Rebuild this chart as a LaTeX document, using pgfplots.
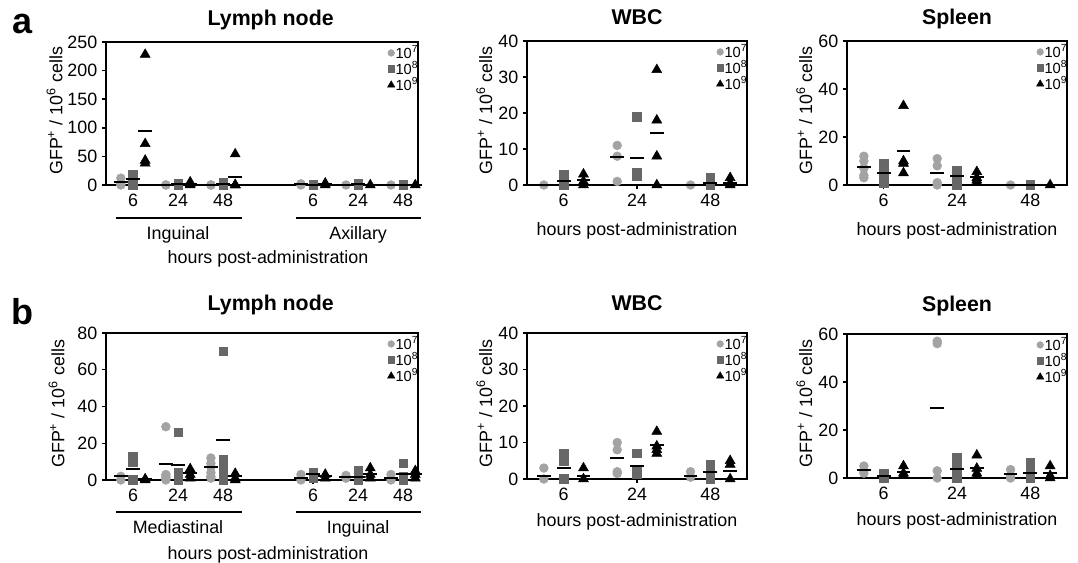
\documentclass[border=0pt]{standalone}
\usepackage{fontspec}
\setmainfont{Liberation Sans}
\usepackage{pgfplots}
\pgfplotsset{compat=1.18}

\definecolor{c7}{HTML}{A3A3A3}
\definecolor{c8}{HTML}{676767}

\newcommand{\tfont}{\fontsize{16}{16}\selectfont\bfseries}
\newcommand{\lfont}{\fontsize{13.4}{13.4}\selectfont}
\newcommand{\gfont}{\fontsize{11}{11}\selectfont}
\tikzset{lab/.style={font=\lfont, anchor=base}}

\pgfplotsset{
  panel/.style={
    scale only axis, clip=false, ymin=0,
    axis line style={line width=1.4pt},
    every tick/.style={black, line width=1.1pt},
    major tick length=3pt,
    tick align=outside, xtick pos=bottom, ytick pos=left,
    tick label style={font=\lfont},
    /pgf/number format/assume math mode=true,
    legend style={at={(1,1)}, anchor=north east, xshift=1pt, yshift=-2pt,
      draw=none, fill=none, font=\gfont,
      row sep=0pt, inner sep=0pt, nodes={inner sep=0.6pt},
      /tikz/every even column/.append style={column sep=1.5pt}},
    legend cell align=left,
    legend image code/.code={\draw[##1] plot coordinates {(0pt,0pt)};},
  },
  ln/.style={panel, width=234pt, xmin=0.4, xmax=7.33,
    xtick={1,2,3,5,6,7}, xticklabels={6,24,48,6,24,48}},
  sm/.style={panel, width=165pt, xmin=0.5, xmax=3.5,
    xtick={1,2,3}, xticklabels={6,24,48}},
  d7/.style={only marks, mark=*, mark size=3.3pt, draw=c7, fill=c7, forget plot},
  d8/.style={only marks, mark=square*, mark size=3.2pt, draw=c8, fill=c8, forget plot},
  d9/.style={only marks, mark=triangle*, mark size=4.3pt, draw=black, fill=black, forget plot},
  mean/.style={only marks, mark=-, mark size=5.2pt, black, mark options={line width=1.5pt}, forget plot},
}

\newcommand{\doselegend}{%
  \addlegendimage{only marks, mark=*, mark size=2.5pt, draw=c7, fill=c7}
  \addlegendentry{\gfont 10\textsuperscript{7}}
  \addlegendimage{only marks, mark=square*, mark size=2.4pt, draw=c8, fill=c8}
  \addlegendentry{\gfont 10\textsuperscript{8}}
  \addlegendimage{only marks, mark=triangle*, mark size=3.1pt, draw=black, fill=black}
  \addlegendentry{\gfont 10\textsuperscript{9}}}

\begin{document}
\begin{tikzpicture}
\useasboundingbox (0,0) rectangle (808.5pt,421.5pt);

\node[font=\fontsize{27}{27}\selectfont\bfseries] at (17pt,403.5pt) {a};
\node[font=\fontsize{27}{27}\selectfont\bfseries] at (17pt,187.5pt) {b};

% ---------- a: Lymph node ----------
\begin{axis}[ln, at={(79.5pt,282.75pt)}, anchor=south west, height=107.25pt,
  ymax=250, ytick={0,50,100,150,200,250}]
\addplot[d7] coordinates {(0.73,0)(0.73,3)(0.73,12)(1.73,0)(1.73,0)(2.73,0)(2.73,0)
  (4.73,0)(4.73,2)(5.73,0)(6.73,0)};
\addplot[d8] coordinates {(1,0)(1,6)(1,12)(1,19)(2,0)(2,1)(2,3)(3,0)(3,2)(3,5)
  (5,0)(5,1)(6,0)(6,2)(7,0)(7,1)};
\addplot[d9] coordinates {(1.27,228)(1.27,72)(1.27,43)(1.27,38)(2.27,0)(2.27,2)(2.27,5)
  (3.27,54)(3.27,0)(3.27,0)(3.27,0)(5.27,0)(5.27,3)(6.27,0)(7.27,0)};
\addplot[mean] coordinates {(0.73,5)(1,10)(1.27,95)(1.73,0)(2,1)(2.27,2)(2.73,0)(3,2)(3.27,13.5)
  (4.73,1)(5,0.5)(5.27,1.5)(5.73,0)(6,1)(6.27,0)(6.73,0)(7,0.5)(7.27,0)};
\doselegend
\node[font=\tfont, anchor=base] at ([xshift=6.5pt,yshift=12.3pt]rel axis cs:0.5,1) {Lymph node};
\node[rotate=90, font=\lfont] at ([xshift=-38.5pt,yshift=2pt]rel axis cs:0,0.5) {GFP\textsuperscript{+} / 10\textsuperscript{6} cells};
\draw[line width=1.1pt] ([yshift=-24.75pt]axis cs:0.62,0) -- ([yshift=-24.75pt]axis cs:3.42,0);
\draw[line width=1.1pt] ([yshift=-24.75pt]axis cs:4.62,0) -- ([yshift=-24.75pt]axis cs:7.4,0);
\node[lab] at ([yshift=-40.8pt]axis cs:2,0) {Inguinal};
\node[lab] at ([yshift=-40.8pt]axis cs:6,0) {Axillary};
\node[lab] at ([xshift=4.5pt,yshift=-58.8pt]rel axis cs:0.5,0) {hours post-administration};
\end{axis}

% ---------- a: WBC ----------
\begin{axis}[sm, at={(395.25pt,282.75pt)}, anchor=south west, height=108pt,
  ymax=40, ytick={0,10,20,30,40}]
\addplot[d7] coordinates {(0.73,0)(1.73,11)(1.73,8)(1.73,1)(2.73,0)};
\addplot[d8] coordinates {(1,3)(1,1)(1,0)(2,19)(2,3.5)(2,2.5)(3,2)(3,0)};
\addplot[d9] coordinates {(1.27,3)(1.27,1)(1.27,0)(2.27,32)(2.27,18)(2.27,8)(2.27,0)
  (3.27,2)(3.27,0.5)(3.27,0)};
\addplot[mean] coordinates {(0.73,0)(1,1.2)(1.27,1.4)(1.73,7.8)(2,7.6)(2.27,14.4)(2.73,0)(3,0.5)(3.27,0.6)};
\doselegend
\node[font=\tfont, anchor=base] at ([yshift=12.3pt]rel axis cs:0.5,1) {WBC};
\node[rotate=90, font=\lfont] at ([xshift=-32pt,yshift=2pt]rel axis cs:0,0.5) {GFP\textsuperscript{+} / 10\textsuperscript{6} cells};
\node[lab] at ([yshift=-37.8pt]rel axis cs:0.5,0) {hours post-administration};
\end{axis}

% ---------- a: Spleen ----------
\begin{axis}[sm, at={(635.25pt,282.75pt)}, anchor=south west, height=108pt,
  ymax=60, ytick={0,20,40,60}]
\addplot[d7] coordinates {(0.73,12)(0.73,10)(0.73,7)(0.73,4)(0.73,3)(1.73,11)(1.73,8)(1.73,1)(1.73,0)(2.73,0)};
\addplot[d8] coordinates {(1,9)(1,5)(1,3)(1,1)(2,6)(2,3)(2,1)(2,0)(3,0)};
\addplot[d9] coordinates {(1.27,33)(1.27,10)(1.27,9)(1.27,5)(2.27,5.5)(2.27,3)(2.27,2)(2.27,1)(3.27,0)};
\addplot[mean] coordinates {(0.73,7.6)(1,4.9)(1.27,14.3)(1.73,5.1)(2,3.6)(2.27,3.3)(2.73,0)(3,0)(3.27,0)};
\doselegend
\node[font=\tfont, anchor=base] at ([yshift=12.3pt]rel axis cs:0.5,1) {Spleen};
\node[rotate=90, font=\lfont] at ([xshift=-32pt,yshift=2pt]rel axis cs:0,0.5) {GFP\textsuperscript{+} / 10\textsuperscript{6} cells};
\node[lab] at ([yshift=-37.8pt]rel axis cs:0.5,0) {hours post-administration};
\end{axis}

% ---------- b: Lymph node ----------
\begin{axis}[ln, at={(79.5pt,61.5pt)}, anchor=south west, height=110.25pt,
  ymax=80, ytick={0,20,40,60,80}]
\addplot[d7] coordinates {(0.73,2)(0.73,0)(1.73,29)(1.73,3)(1.73,2)(1.73,1)(1.73,0)
  (2.73,12)(2.73,9)(2.73,7)(2.73,4)(2.73,2)(2.73,1)(4.73,3)(4.73,0)(5.73,2.5)(5.73,1)(6.73,3)(6.73,0)};
\addplot[d8] coordinates {(1,13)(1,10)(1,0)(2,26)(2,4)(2,1)(2,0)(3,70)(3,11)(3,6)(3,2)(3,0)
  (5,4)(5,1)(6,5)(6,2)(6,0)(7,9)(7,2)(7,0)};
\addplot[d9] coordinates {(1.27,0.5)(1.27,0)(2.27,6)(2.27,3)(2.27,1)(3.27,3.5)(3.27,1)(3.27,0)
  (5.27,3)(5.27,1)(6.27,6.5)(6.27,3)(6.27,1)(7.27,5)(7.27,3)(7.27,1)};
\addplot[mean] coordinates {(0.73,2)(1,6.2)(1.27,0.3)(1.73,8.7)(2,8.2)(2.27,4)(2.73,6.9)(3,21.8)(3.27,2)
  (4.73,1)(5,3)(5.27,2)(5.73,1.8)(6,1.5)(6.27,3)(6.73,1)(7,3)(7.27,3)};
\doselegend
\node[font=\tfont, anchor=base] at ([xshift=6.5pt,yshift=16.8pt]rel axis cs:0.5,1) {Lymph node};
\node[rotate=90, font=\lfont] at ([xshift=-37pt,yshift=2pt]rel axis cs:0,0.5) {GFP\textsuperscript{+} / 10\textsuperscript{6} cells};
\draw[line width=1.1pt] ([yshift=-24pt]axis cs:0.62,0) -- ([yshift=-24pt]axis cs:3.42,0);
\draw[line width=1.1pt] ([yshift=-24pt]axis cs:4.62,0) -- ([yshift=-24pt]axis cs:7.4,0);
\node[lab] at ([yshift=-40pt]axis cs:2,0) {Mediastinal};
\node[lab] at ([yshift=-40pt]axis cs:6,0) {Inguinal};
\node[lab] at ([xshift=4.5pt,yshift=-59.5pt]rel axis cs:0.5,0) {hours post-administration};
\end{axis}

% ---------- b: WBC ----------
\begin{axis}[sm, at={(395.25pt,62.25pt)}, anchor=south west, height=109.5pt,
  ymax=40, ytick={0,10,20,30,40}]
\addplot[d7] coordinates {(0.73,3)(0.73,0)(1.73,10)(1.73,8)(1.73,2)(1.73,1.5)(2.73,2)(2.73,0.5)};
\addplot[d8] coordinates {(1,7)(1,5)(1,0)(2,7)(2,2)(2,1.5)(3,4)(3,2)(3,0)};
\addplot[d9] coordinates {(1.27,3)(1.27,0)(2.27,13)(2.27,9)(2.27,8)(2.27,7)(3.27,5)(3.27,4)(3.27,0)};
\addplot[mean] coordinates {(0.73,0.8)(1,3)(1.27,0.8)(1.73,5.7)(2,3.6)(2.27,9.2)(2.73,0.8)(3,2)(3.27,2.3)};
\doselegend
\node[font=\tfont, anchor=base] at ([yshift=16.8pt]rel axis cs:0.5,1) {WBC};
\node[rotate=90, font=\lfont] at ([xshift=-32pt,yshift=2pt]rel axis cs:0,0.5) {GFP\textsuperscript{+} / 10\textsuperscript{6} cells};
\node[lab] at ([yshift=-35.5pt]rel axis cs:0.5,0) {hours post-administration};
\end{axis}

% ---------- b: Spleen ----------
\begin{axis}[sm, at={(635.25pt,63pt)}, anchor=south west, height=108pt,
  ymax=60, ytick={0,20,40,60}]
\addplot[d7] coordinates {(0.73,5)(0.73,3)(0.73,2)(1.73,57)(1.73,56)(1.73,3)(1.73,0)(2.73,3.5)(2.73,1)(2.73,0)};
\addplot[d8] coordinates {(1,2)(1,0.5)(1,0)(2,8.5)(2,6)(2,3)(2,0)(3,6.5)(3,3)(3,0)};
\addplot[d9] coordinates {(1.27,5)(1.27,2)(1.27,1)(2.27,9.5)(2.27,4)(2.27,2)(2.27,1)(3.27,5)(3.27,1)(3.27,0)};
\addplot[mean] coordinates {(0.73,3.3)(1,1)(1.27,2.5)(1.73,29.2)(2,3.75)(2.27,4)(2.73,1.5)(3,2)(3.27,2)};
\doselegend
\node[font=\tfont, anchor=base] at ([yshift=16.8pt]rel axis cs:0.5,1) {Spleen};
\node[rotate=90, font=\lfont] at ([xshift=-32pt,yshift=2pt]rel axis cs:0,0.5) {GFP\textsuperscript{+} / 10\textsuperscript{6} cells};
\node[lab] at ([yshift=-35.5pt]rel axis cs:0.5,0) {hours post-administration};
\end{axis}
\end{tikzpicture}
\end{document}
